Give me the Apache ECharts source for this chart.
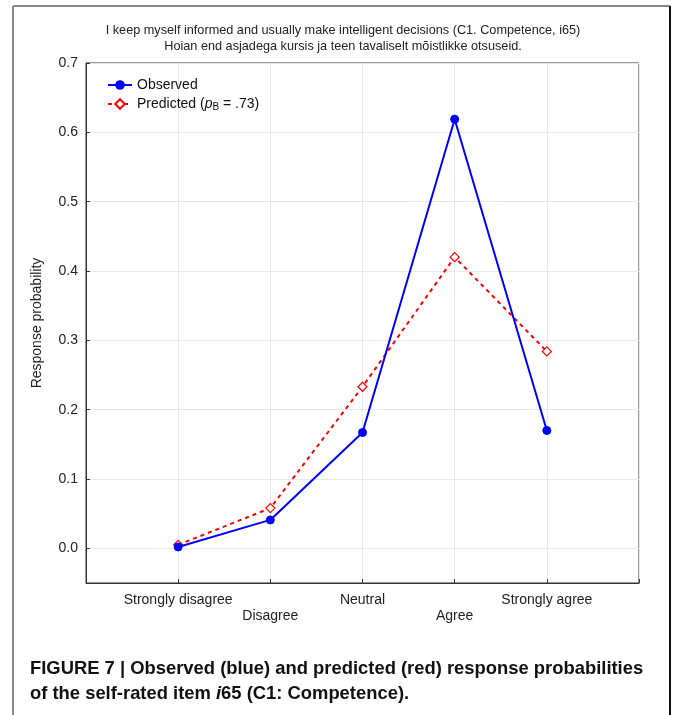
<!DOCTYPE html>
<html>
<head>
<meta charset="utf-8">
<script src="https://cdn.jsdelivr.net/npm/echarts@6/dist/echarts.min.js"></script>
<style>html,body{margin:0;padding:0;background:#fff}#c{width:673px;height:715px}</style>
</head>
<body>
<div id="c"></div>
<script>
const categories = ['Strongly disagree', 'Disagree', 'Neutral', 'Agree', 'Strongly agree'];
const observed = [0.002, 0.041, 0.167, 0.619, 0.170];
const predicted = [0.005, 0.058, 0.233, 0.420, 0.284];
const yTicks = [0.0, 0.1, 0.2, 0.3, 0.4, 0.5, 0.6, 0.7];

const font = '"Liberation Sans", Arial, sans-serif';
const chart = echarts.init(document.getElementById('c'));
chart.setOption({
  animation: false,
  backgroundColor: '#fff',
  textStyle: { fontFamily: font },
  title: {
    text: 'I keep myself informed and usually make intelligent decisions (C1. Competence, i65)\nHoian end asjadega kursis ja teen tavaliselt mõistlikke otsuseid.',
    left: 338, textAlign: 'center', top: 17,
    textStyle: { fontSize: 12.7, fontWeight: 'normal', color: '#222', lineHeight: 16, fontFamily: font }
  },
  grid: { left: 86, right: 34, top: 63, bottom: 132, show: true, borderColor: '#333', borderWidth: 1, backgroundColor: 'transparent' },
  legend: {
    orient: 'vertical', left: 102, top: 73, itemWidth: 24, itemHeight: 12, itemGap: 5,
    textStyle: { fontSize: 14, color: '#111', fontFamily: font,
      rich: { n: { fontSize: 14, color: '#111' }, i: { fontSize: 14, fontStyle: 'italic', color: '#111' }, s: { fontSize: 10, color: '#111', verticalAlign: 'bottom', padding: [6, 0, 0, 0] } } },
    formatter: function (name) {
      if (name === 'Predicted') return '{n|Predicted (}{i|p}{s|B}{n| = .73)}';
      return name;
    },
    data: ['Observed', 'Predicted']
  },
  xAxis: {
    type: 'value', min: 0, max: 6, interval: 1,
    axisLine: { show: true, onZero: false, lineStyle: { color: '#333' } },
    axisTick: { show: true, inside: true, length: 4, lineStyle: { color: '#333' } },
    splitLine: { show: true, lineStyle: { color: '#e8e8e8' } },
    axisLabel: {
      fontSize: 14, color: '#222', margin: 9, lineHeight: 16, fontFamily: font,
      formatter: function (v) {
        const i = Math.round(v) - 1;
        if (i < 0 || i >= categories.length) return '';
        return (i % 2 === 1) ? '\n' + categories[i] : categories[i];
      }
    }
  },
  yAxis: {
    type: 'value', min: -0.05, max: 0.7,
    name: 'Response probability', nameLocation: 'middle', nameGap: 42,
    nameTextStyle: { fontSize: 14, color: '#222', fontFamily: font },
    axisLine: { show: true, onZero: false, lineStyle: { color: '#333' } },
    axisTick: { show: true, inside: true, length: 4, lineStyle: { color: '#333' },
      customValues: yTicks },
    splitLine: { show: true, lineStyle: { color: '#e8e8e8' } },
    axisLabel: { fontSize: 14, color: '#222', margin: 8, fontFamily: font,
      customValues: yTicks,
      formatter: function (v) { return v.toFixed(1); } }
  },
  series: [
    {
      name: 'Observed', type: 'line',
      data: observed.map((v, i) => [i + 1, v]),
      symbol: 'circle', symbolSize: 8,
      lineStyle: { color: '#0000ff', width: 2 },
      itemStyle: { color: '#0000ff', borderColor: '#0000ff' },
      z: 3
    },
    {
      name: 'Predicted', type: 'line',
      data: predicted.map((v, i) => [i + 1, v]),
      symbol: 'diamond', symbolSize: 9, showAllSymbol: true,
      lineStyle: { color: '#ff0000', width: 2, type: [4, 4] },
      itemStyle: { color: '#ffffff', borderColor: '#ff0000', borderWidth: 1.2 },
      z: 2
    }
  ],
  graphic: [
    { type: 'line', shape: { x1: 13, y1: 6, x2: 13, y2: 715 }, style: { stroke: '#888', lineWidth: 2 } },
    { type: 'line', shape: { x1: 13, y1: 6, x2: 670, y2: 6 }, style: { stroke: '#888', lineWidth: 2 } },
    { type: 'line', shape: { x1: 670, y1: 6, x2: 670, y2: 715 }, style: { stroke: '#111', lineWidth: 2 } },
    { type: 'text', left: 30, top: 660, style: {
        text: '{b|FIGURE 7 | Observed (blue) and predicted (red) response probabilities}\n{b|of the self-rated item }{bi|i}{b|65 (C1: Competence).}',
        rich: {
          b: { fontSize: 18.4, fontWeight: 'bold', fill: '#111', fontFamily: font, lineHeight: 25 },
          bi: { fontSize: 18.4, fontWeight: 'bold', fontStyle: 'italic', fill: '#111', fontFamily: font, lineHeight: 25 }
        } } }
  ]
});
</script>
</body>
</html>
